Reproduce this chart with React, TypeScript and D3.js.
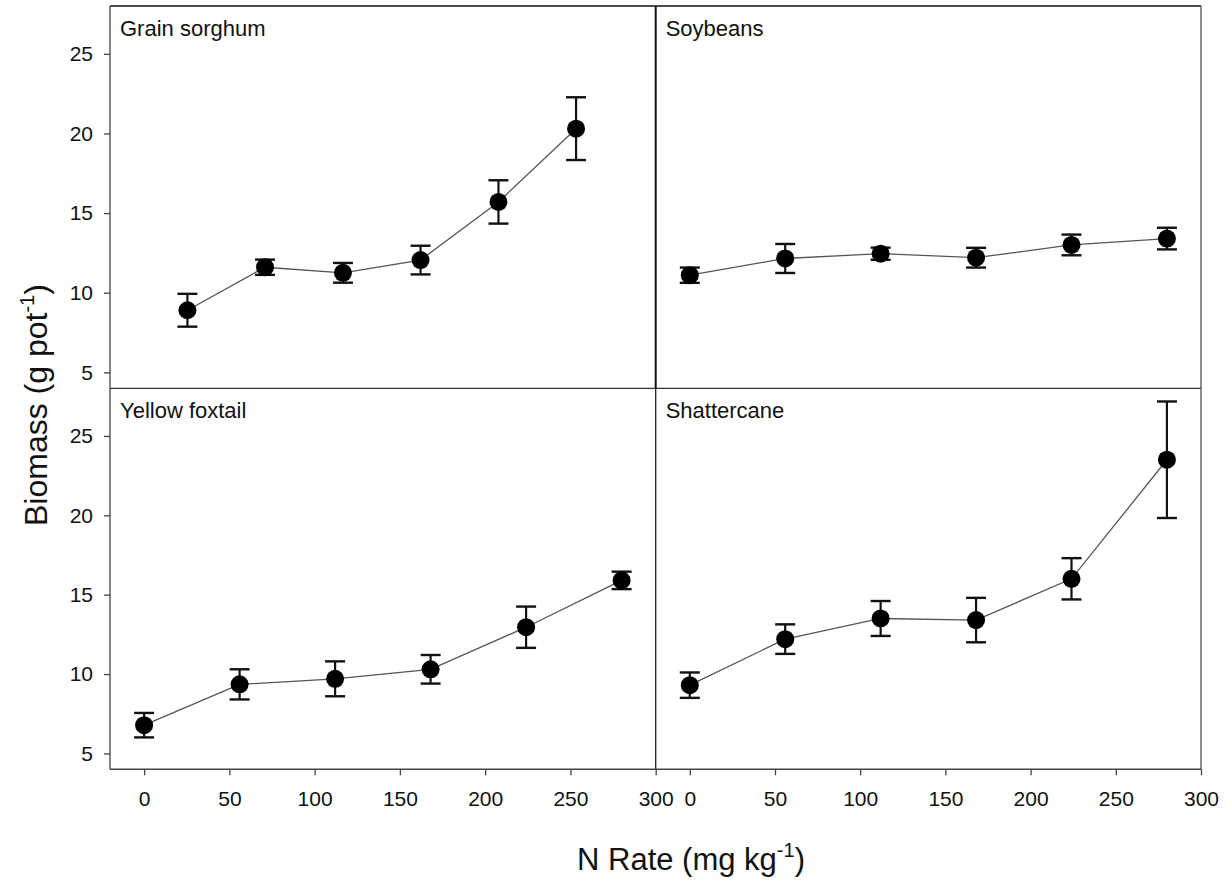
import React, { useEffect, useRef } from "react";
import * as d3 from "d3";

// ---- data ----
const nRates = [0, 56, 112, 168, 224, 280];
const sorghumRates = [25.4, 70.9, 116.6, 162.1, 207.8, 253.3];
const sorghumMean = [8.9, 11.6, 11.25, 12.05, 15.7, 20.3];
const sorghumErr = [1.03, 0.48, 0.62, 0.9, 1.36, 1.97];
const soyMean = [11.1, 12.15, 12.45, 12.2, 13.0, 13.4];
const soyErr = [0.48, 0.91, 0.38, 0.62, 0.65, 0.68];
const foxtailMean = [6.78, 9.35, 9.7, 10.3, 12.95, 15.9];
const foxtailErr = [0.77, 0.95, 1.1, 0.9, 1.3, 0.55];
const shatterMean = [9.3, 12.2, 13.5, 13.4, 16.0, 23.5];
const shatterErr = [0.8, 0.93, 1.1, 1.4, 1.3, 3.67];
const yTicks = [5, 10, 15, 20, 25];
const xTicks = [0, 50, 100, 150, 200, 250, 300];
const panelNames = ["Grain sorghum", "Soybeans", "Yellow foxtail", "Shattercane"];

const FONT = "'Liberation Sans', Arial, sans-serif";

export default function App() {
  const ref = useRef<SVGSVGElement | null>(null);

  useEffect(() => {
    const svg = d3.select(ref.current);
    svg.selectAll("*").remove();

    const L = 110, M = 655.7, R = 1201;
    const T = 6, H = 388.3, B = 769.3;
    const xL = d3.scaleLinear().domain([-20, 300]).range([L, M]);
    const xR = d3.scaleLinear().domain([-20, 300]).range([M, R]);
    const yT = d3.scaleLinear().domain([4, 28]).range([H, T]);
    const yB = d3.scaleLinear().domain([4, 28]).range([B, H]);

    const panels = [
      { name: panelNames[0], xs: sorghumRates, m: sorghumMean, e: sorghumErr, x: xL, y: yT },
      { name: panelNames[1], xs: nRates, m: soyMean, e: soyErr, x: xR, y: yT },
      { name: panelNames[2], xs: nRates, m: foxtailMean, e: foxtailErr, x: xL, y: yB },
      { name: panelNames[3], xs: nRates, m: shatterMean, e: shatterErr, x: xR, y: yB },
    ];

    // frame lines
    const frame = svg.append("g").attr("fill", "none");
    const ln = (x1: number, y1: number, x2: number, y2: number, c: string, w: number) =>
      frame.append("line").attr("x1", x1).attr("y1", y1).attr("x2", x2).attr("y2", y2)
        .attr("stroke", c).attr("stroke-width", w);
    ln(L, T, R, T, "#111", 1.6);
    ln(L, H, R, H, "#333", 1.3);
    ln(M, T, M, H, "#111", 2);
    ln(M, H, M, B, "#222", 1.3);
    ln(R, T, R, B, "#444", 1.2);
    ln(L, T, L, B, "#444", 1.3);
    ln(L, B, R, B, "#444", 1.5);

    // axes
    const styleAxis = (g: any) => {
      g.select(".domain").remove();
      g.selectAll(".tick line").attr("stroke", "#444").attr("stroke-width", 1.3);
      g.selectAll(".tick text").attr("fill", "#111").attr("font-size", 21).attr("font-family", FONT);
    };
    [yT, yB].forEach((y) => {
      svg.append("g").attr("transform", `translate(${L},0)`)
        .call(d3.axisLeft(y).tickValues(yTicks).tickSize(6).tickPadding(11).tickFormat(d3.format("d")) as any)
        .call(styleAxis);
    });
    [xL, xR].forEach((x) => {
      svg.append("g").attr("transform", `translate(0,${B})`)
        .call(d3.axisBottom(x).tickValues(xTicks).tickSize(6).tickPadding(16).tickFormat(d3.format("d")) as any)
        .call(styleAxis);
    });

    // data
    panels.forEach((p, pi) => {
      const g = svg.append("g");
      const pts = p.xs.map((xv, i) => ({ x: xv, m: p.m[i], e: p.e[i] }));
      const line = d3.line<any>().x((d) => p.x(d.x)).y((d) => p.y(d.m));
      g.append("path").datum(pts).attr("d", line).attr("fill", "none")
        .attr("stroke", "#555").attr("stroke-width", 1.3);
      const eb = g.selectAll(".eb").data(pts).enter().append("g");
      eb.append("line").attr("x1", (d) => p.x(d.x)).attr("x2", (d) => p.x(d.x))
        .attr("y1", (d) => p.y(d.m - d.e)).attr("y2", (d) => p.y(d.m + d.e))
        .attr("stroke", "#111").attr("stroke-width", 2.2);
      [1, -1].forEach((s) => {
        eb.append("line").attr("x1", (d) => p.x(d.x) - 10).attr("x2", (d) => p.x(d.x) + 10)
          .attr("y1", (d) => p.y(d.m + s * d.e)).attr("y2", (d) => p.y(d.m + s * d.e))
          .attr("stroke", "#111").attr("stroke-width", 2.4);
      });
      eb.append("circle").attr("cx", (d) => p.x(d.x)).attr("cy", (d) => p.y(d.m))
        .attr("r", 9).attr("fill", "#000");
      const left = pi % 2 === 0 ? L : M;
      const top = pi < 2 ? T : H;
      g.append("text").attr("x", left + 10).attr("y", top + 30).text(p.name)
        .attr("font-size", 22).attr("font-family", FONT).attr("fill", "#111");
    });

    // titles
    const yt = svg.append("text").attr("transform", `translate(47,526) rotate(-90)`)
      .attr("text-anchor", "start").attr("font-size", 32).attr("font-family", FONT).attr("fill", "#111");
    yt.append("tspan").text("Biomass (g pot");
    yt.append("tspan").text("-1").attr("font-size", 20).attr("dy", -13);
    yt.append("tspan").text(")").attr("dy", 13);

    const xt = svg.append("text").attr("x", 577).attr("y", 870)
      .attr("text-anchor", "start").attr("font-size", 31).attr("font-family", FONT).attr("fill", "#111");
    xt.append("tspan").text("N Rate (mg kg");
    xt.append("tspan").text("-1").attr("font-size", 20).attr("dy", -13);
    xt.append("tspan").text(")").attr("dy", 13);
  }, []);

  return (
    <svg ref={ref} width={1227} height={882}
      style={{ position: "absolute", left: 0, top: 0, background: "#fff" }} />
  );
}
